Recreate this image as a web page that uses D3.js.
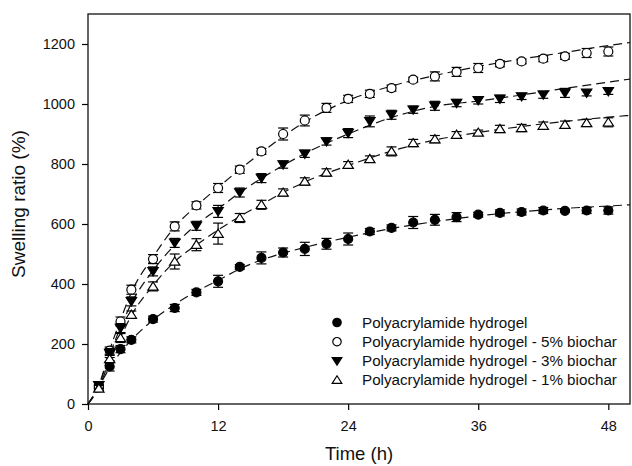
<!DOCTYPE html>
<html>
<head>
<meta charset="utf-8">
<script src="https://cdn.jsdelivr.net/npm/d3@7"></script>
<style>
  html, body { margin: 0; padding: 0; background: #fff; }
  svg { display: block; font-family: "Liberation Sans", Arial, sans-serif; }
</style>
</head>
<body>
<svg id="chart" width="632" height="466"></svg>
<script>
// ---- data ----
const times = [1,2,3,4,6,8,10,12,14,16,18,20,22,24,26,28,30,32,34,36,38,40,42,44,46,48];

const seriesNames = [
  "Polyacrylamide hydrogel",
  "Polyacrylamide hydrogel - 5% biochar",
  "Polyacrylamide hydrogel - 3% biochar",
  "Polyacrylamide hydrogel - 1% biochar"
];

const pamValues  = [55,125,183,214,283,320,372,409,457,487,505,517,534,550,575,587,605,614,623,631,637,640,645,644,645,645];
const bc5Values  = [60,178,275,381,483,592,662,720,781,842,900,945,987,1017,1034,1053,1081,1092,1107,1120,1134,1142,1151,1159,1170,1175];
const bc3Values  = [62,170,253,342,442,537,594,642,705,753,798,834,875,903,942,964,981,994,1003,1012,1017,1025,1031,1037,1037,1042];
const bc1Values  = [52,150,220,298,392,475,531,568,620,664,705,742,772,798,817,842,870,883,898,905,917,920,928,931,937,939];

const pamErr = [10,15,12,10,10,12,10,20,8,20,15,22,18,20,10,10,20,18,15,8,10,10,10,5,10,12];
const bc5Err = [10,12,15,15,15,15,12,15,12,10,20,18,15,12,12,10,8,15,15,15,10,8,10,10,15,15];
const bc3Err = [10,15,15,15,15,15,15,20,15,15,12,12,12,15,18,15,12,15,12,12,12,10,12,15,10,10];
const bc1Err = [10,12,15,12,15,25,20,35,15,15,12,12,12,10,10,15,12,12,10,8,12,12,12,12,12,15];

// fitted (dashed) curves
const fitTimes = [0,1,2,3,4,6,8,10,12,14,16,18,20,24,28,32,36,40,44,48,50];
const pamFit = [0,58,120,172,213,280,332,375,412,450,480,503,522,556,585,608,627,641,652,660,664];
const bc5Fit = [0,62,180,280,372,490,590,660,722,782,838,892,940,1012,1060,1095,1125,1150,1172,1195,1205];
const bc3Fit = [0,62,165,255,335,445,530,598,650,705,752,795,835,900,955,992,1010,1030,1052,1073,1083];
const bc1Fit = [0,55,145,222,295,395,475,530,580,625,665,705,740,795,843,880,905,925,942,956,962];

const xTicks = [0,12,24,36,48];
const yTicks = [0,200,400,600,800,1000,1200];

// ---- layout ----
const svg = d3.select("#chart");
const mLeft = 88, mRight = 630, mTop = 14, mBottom = 404;
const x = d3.scaleLinear().domain([0,50]).range([mLeft, mRight]);
const y = d3.scaleLinear().domain([0,1300]).range([mBottom, mTop]);

const series = [
  {name: seriesNames[0], vals: pamValues, err: pamErr, fit: pamFit, shape: "circle", filled: true},
  {name: seriesNames[1], vals: bc5Values, err: bc5Err, fit: bc5Fit, shape: "circle", filled: false},
  {name: seriesNames[2], vals: bc3Values, err: bc3Err, fit: bc3Fit, shape: "down", filled: true},
  {name: seriesNames[3], vals: bc1Values, err: bc1Err, fit: bc1Fit, shape: "up", filled: false}
];

function symbolPath(shape, s) {
  if (shape === "circle") {
    return d3.symbol().type(d3.symbolCircle).size(Math.PI * s * s)();
  }
  const h = s * 1.8, w = s * 1.15;
  if (shape === "down") return `M${-w},${-h/2.2}L${w},${-h/2.2}L0,${h/1.8}Z`;
  return `M${-w},${h/2.2}L${w},${h/2.2}L0,${-h/1.8}Z`;
}

// axes
const xAxis = d3.axisBottom(x).tickValues(xTicks).tickSize(6).tickPadding(11).tickFormat(d3.format("d"));
const yAxis = d3.axisLeft(y).tickValues(yTicks).tickSize(6).tickPadding(7).tickFormat(d3.format("d"));

const gx = svg.append("g").attr("transform", `translate(0,${mBottom})`).call(xAxis);
const gy = svg.append("g").attr("transform", `translate(${mLeft},0)`).call(yAxis);
[gx, gy].forEach(g => {
  g.select(".domain").remove();
  g.selectAll(".tick line").attr("stroke", "#000").attr("stroke-width", 1.2);
  g.selectAll(".tick text").attr("fill", "#111").style("font-size", "14.5px")
    .style("font-family", "Liberation Sans, Arial, sans-serif");
});

// frame
svg.append("rect").attr("x", mLeft).attr("y", mTop)
  .attr("width", mRight - mLeft).attr("height", mBottom - mTop)
  .attr("fill", "none").attr("stroke", "#111").attr("stroke-width", 1.3);

// fitted dashed curves
const line = d3.line().x((d) => x(d[0])).y((d) => y(d[1])).curve(d3.curveMonotoneX);
series.forEach(s => {
  svg.append("path")
    .datum(fitTimes.map((t, i) => [t, s.fit[i]]))
    .attr("d", line)
    .attr("fill", "none").attr("stroke", "#111")
    .attr("stroke-width", 1.2).attr("stroke-dasharray", "9,5");
});

// error bars and markers
series.forEach(s => {
  const g = svg.append("g");
  times.forEach((t, i) => {
    const cx = x(t), v = s.vals[i], e = s.err[i];
    const y1 = y(v + e), y2 = y(v - e);
    g.append("line").attr("x1", cx).attr("x2", cx).attr("y1", y1).attr("y2", y2)
      .attr("stroke", "#000").attr("stroke-width", 1.2);
    [y1, y2].forEach(yy => g.append("line")
      .attr("x1", cx - 5).attr("x2", cx + 5).attr("y1", yy).attr("y2", yy)
      .attr("stroke", "#000").attr("stroke-width", 1.2));
  });
  times.forEach((t, i) => {
    g.append("path")
      .attr("d", symbolPath(s.shape, 4.5))
      .attr("transform", `translate(${x(t)},${y(s.vals[i])})`)
      .attr("fill", s.filled ? "#000" : "#fff")
      .attr("stroke", "#000").attr("stroke-width", 1.2);
  });
});

// legend
const legY = [322.5, 341.7, 361, 380];
series.forEach((s, i) => {
  svg.append("path")
    .attr("d", symbolPath(s.shape, 4.2))
    .attr("transform", `translate(337,${legY[i]})`)
    .attr("fill", s.filled ? "#000" : "#fff")
    .attr("stroke", "#000").attr("stroke-width", 1.2);
  svg.append("text").attr("x", 362).attr("y", legY[i]).attr("dy", "0.36em")
    .attr("fill", "#111").style("font-size", "15.2px").text(s.name);
});

// axis titles
svg.append("text").attr("x", (mLeft + mRight) / 2).attr("y", 460)
  .attr("text-anchor", "middle").attr("fill", "#111").style("font-size", "18.5px")
  .text("Time (h)");
svg.append("text")
  .attr("transform", `translate(25,204) rotate(-90)`)
  .attr("text-anchor", "middle").attr("fill", "#111").style("font-size", "19px")
  .text("Swelling ratio (%)");
</script>
</body>
</html>
